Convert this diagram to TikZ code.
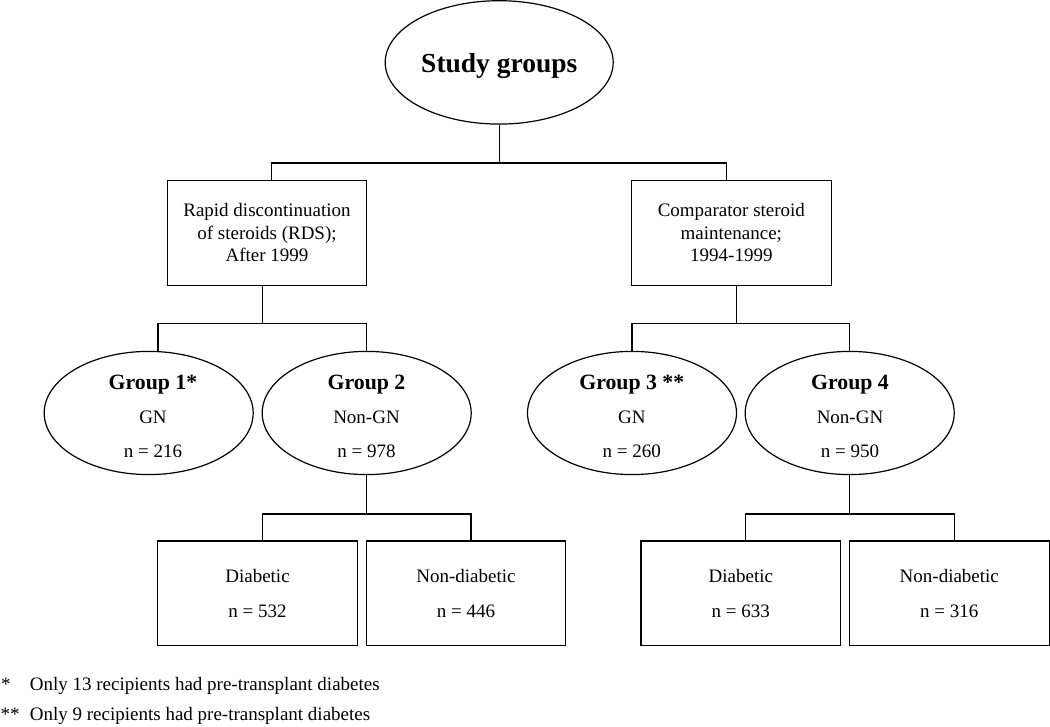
\documentclass[tikz,border=0pt]{standalone}
\usepackage{fontspec}
\setmainfont{Liberation Serif}
\usetikzlibrary{shapes.geometric}
\newcommand\regfont{\fontsize{19}{22.5}\selectfont}
\newcommand\lowfont{\fontsize{19}{34.7}\selectfont}
\newcommand\grpfont{\fontsize{21.8}{24}\selectfont\bfseries}
\newcommand\topfont{\fontsize{27.5}{30}\selectfont\bfseries}
\newcommand\grpnode[6]{%
  \node[grp] (#1) at (#2,413) {};
  \node[ttl,anchor=base] (#1a) at (#3,389) {#4};
  \node[lbl,anchor=base] (#1b) at (#3,423) {#5};
  \node[lbl,anchor=base] (#1c) at (#3,457.7) {#6};
}
\begin{document}
\begin{tikzpicture}[x=1pt,y=-1pt,line width=1.2pt,
  boxa/.style={draw,rectangle,inner sep=0pt,minimum width=199.5pt,minimum height=104.6pt,align=center,font=\regfont},
  boxb/.style={draw,rectangle,inner sep=0pt,minimum width=199.6pt,minimum height=104.7pt,align=center,font=\lowfont},
  grp/.style={draw,ellipse,inner sep=0pt,minimum width=209pt,minimum height=123.2pt},
  topell/.style={draw,ellipse,inner sep=0pt,minimum width=228pt,minimum height=123.4pt},
  lbl/.style={inner sep=0pt,font=\regfont},
  ttl/.style={inner sep=0pt,font=\grpfont},
  link/.style={line width=1.2pt}]
\useasboundingbox (0,0) rectangle (1050,727);

% top
\node[topell] (top) at (499.2,62.4) {};
\node[inner sep=0pt,font=\topfont,anchor=base] (toptxt) at (499.3,72.7) {Study groups};

% second level boxes
\node[boxa] (b1) at (267,233) {Rapid discontinuation\\of steroids (RDS);\\After 1999};
\node[boxa] (b2) at (731.35,233) {Comparator steroid\\maintenance;\\1994-1999};

% groups
\grpnode{g1}{148.7}{153}{Group 1*}{GN}{n = 216}
\grpnode{g2}{366.7}{366.5}{Group 2}{Non-GN}{n = 978}
\grpnode{g3}{632}{631.8}{Group 3 **}{GN}{n = 260}
\grpnode{g4}{849.7}{850}{Group 4}{Non-GN}{n = 950}

% bottom boxes
\node[boxb] (d1) at (257.5,593.35) {Diabetic\\n = 532};
\node[boxb] (d2) at (466,593.35) {Non-diabetic\\n = 446};
\node[boxb] (d3) at (740.85,593.35) {Diabetic\\n = 633};
\node[boxb] (d4) at (949.3,593.35) {Non-diabetic\\n = 316};

% connectors
\draw[link] (top.south) -- ++(0,38.3) coordinate (j0);
\draw[link] (j0) -| ([xshift=4.7pt]b1.north);
\draw[link] (j0) -| ([xshift=-4.65pt]b2.north);

\draw[link] ([xshift=-4.7pt]b1.south) -- ++(0,38) coordinate (j1);
\draw[link] (j1) -| ([xshift=9.3pt]g1.north);
\draw[link] (j1) -| (g2.north);

\draw[link] ([xshift=5.35pt]b2.south) -- ++(0,38) coordinate (j2);
\draw[link] (j2) -| (g3.north);
\draw[link] (j2) -| (g4.north);

\draw[link] (g2.south) -- ++(0,38.7) coordinate (j3);
\draw[link] (j3) -| ([xshift=4.8pt]d1.north);
\draw[link] (j3) -| ([xshift=5pt]d2.north);

\draw[link] (g4.south) -- ++(0,38.7) coordinate (j4);
\draw[link] (j4) -| ([xshift=4.45pt]d3.north);
\draw[link] (j4) -| ([xshift=4.8pt]d4.north);

% footnotes
\node[lbl,anchor=base west] (f1s) at (0.5,690) {*};
\node[lbl,anchor=base west] (f1) at (29.3,690) {Only 13 recipients had pre-transplant diabetes};
\node[lbl,anchor=base west] (f2s) at (0,720) {**};
\node[lbl,anchor=base west] (f2) at (29.3,720) {Only 9 recipients had pre-transplant diabetes};
\end{tikzpicture}
\end{document}
